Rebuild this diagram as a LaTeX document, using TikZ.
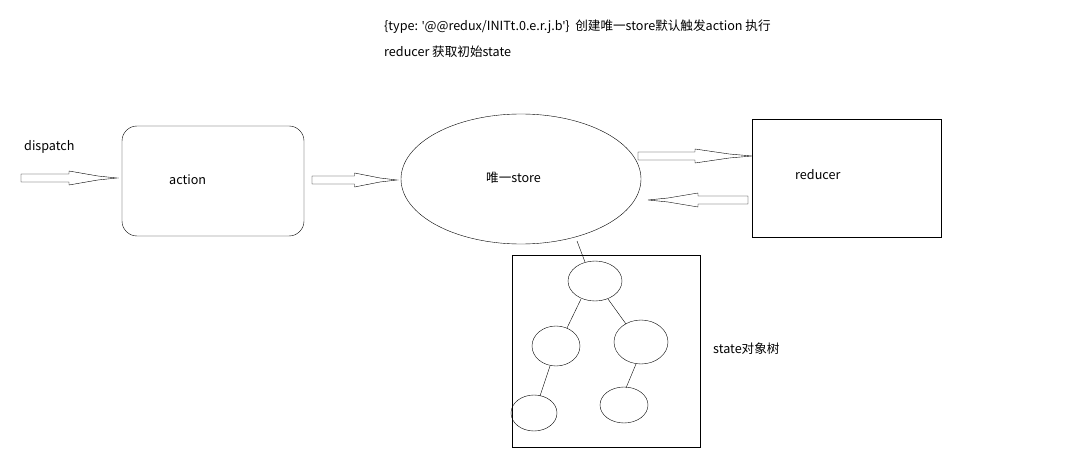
\documentclass[tikz,border=0pt]{standalone}
\usepackage{fontspec}
\setmainfont{Noto Sans CJK SC}
\newfontfamily\qfont{Noto Sans}
\usetikzlibrary{positioning}
% hollow block arrow: start x, end x, y
\newcommand{\blockarrow}[3]{%
  \draw[thin] (#1,#3-4) -- ({#1+0.5*(#2-#1)},#3-4) -- ({#1+0.5*(#2-#1)},#3-7)
    -- ({#1+0.8*(#2-#1)},#3-2) -- (#2,#3) -- ({#1+0.8*(#2-#1)},#3+2)
    -- ({#1+0.5*(#2-#1)},#3+7) -- ({#1+0.5*(#2-#1)},#3+4) -- (#1,#3+4) -- cycle;}
\newcommand{\sq}{{\qfont\symbol{39}}}
\begin{document}
\begin{tikzpicture}[x=1pt,y=-1pt,
    label/.style={anchor=west, inner sep=0pt, font=\fontsize{12.6}{14}\selectfont}]
    \useasboundingbox (0,0) rectangle (1073,465);
    % notes
    \node[label] (note1) at (384,27) {\{type: \sq@@redux/INITt.0.e.r.j.b\sq\}\ \ 创建唯一store默认触发action 执行};
    \node[label] (note2) at (384,52) {reducer 获取初始state};
    \node[label] (dispatch) at (24,147) {dispatch};

    % action
    \draw[rounded corners=15] (122,126) rectangle (304,236);
    \node[label] (action) at (169,180) {action};
    % store
    \draw (521,179) ellipse (120 and 65);
    \node[label] (store) at (486,178) {唯一store};
    % reducer
    \draw (752,119) rectangle (941,237);
    \node[label] (reducer) at (795,175) {reducer};

    % arrows
    \blockarrow{21}{117}{178}
    \blockarrow{312}{397}{180}
    \blockarrow{638}{752}{156}
    \blockarrow{748}{648}{200}

    % state tree
    \draw (512,255) rectangle (700,447);
    \node[label] (tree) at (713,349) {state对象树};
    \draw (595,281) ellipse (27 and 20);
    \draw (556,346) ellipse (24 and 20);
    \draw (641,342) ellipse (27 and 22);
    \draw (534,413) ellipse (23 and 18);
    \draw (624,405) ellipse (24 and 18);
    \coordinate (s1) at (577,241); \coordinate (t1) at (585,262);
    \coordinate (a1) at (581,299); \coordinate (b1) at (567,328);
    \coordinate (a2) at (608,299); \coordinate (b2) at (626,324);
    \coordinate (a3) at (550,366); \coordinate (b3) at (540,396);
    \coordinate (a4) at (636,364); \coordinate (b4) at (626,388);
    \draw (s1) -- (t1);
    \draw (a1) -- (b1);
    \draw (a2) -- (b2);
    \draw (a3) -- (b3);
    \draw (a4) -- (b4);
\end{tikzpicture}
\end{document}
